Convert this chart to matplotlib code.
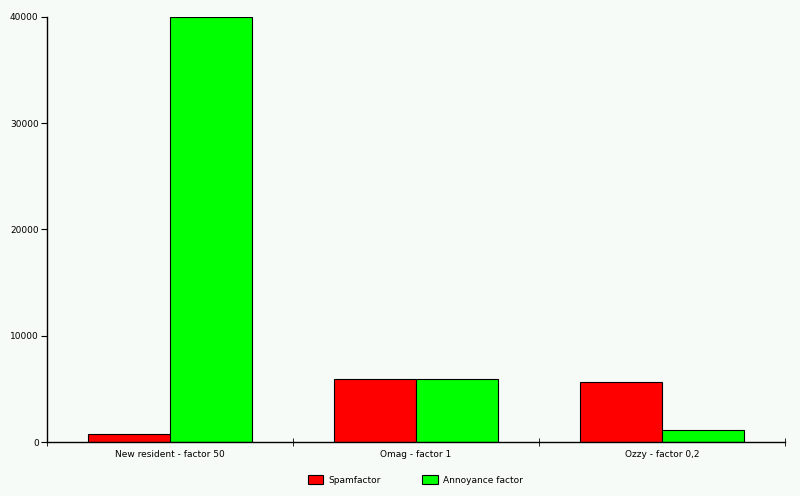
import numpy as np
import matplotlib
matplotlib.use("Agg")
import matplotlib.pyplot as plt

categories = ["New resident - factor 50", "Omag - factor 1", "Ozzy - factor 0,2"]
spamfactor = [800, 5930, 5650]
annoyance = [40000, 5930, 1130]
y_ticks = [0, 10000, 20000, 30000, 40000]

bg = "#F7FBF7"
fs = 6.5
fig = plt.figure(figsize=(8, 4.96), dpi=100, facecolor=bg)
ax = fig.add_axes([47 / 800, 54 / 496, 738 / 800, 425 / 496], facecolor=bg)

x = np.arange(len(categories))
w = 1 / 3
ax.bar(x - w / 2, spamfactor, w, color="#FF0000", edgecolor="#000000", linewidth=0.8, label="Spamfactor")
ax.bar(x + w / 2, annoyance, w, color="#00FF00", edgecolor="#000000", linewidth=0.8, label="Annoyance factor")

ax.set_xlim(-0.5, len(categories) - 0.5)
ax.set_ylim(0, 40000)
ax.set_yticks(y_ticks)
ax.set_yticklabels([str(v) for v in y_ticks], fontsize=fs)
ax.set_xticks(x)
ax.set_xticklabels(categories, fontsize=fs)
ax.tick_params(axis="x", which="major", length=0, pad=6)
ax.set_xticks(np.arange(-0.5, len(categories)), minor=True)
ax.tick_params(axis="x", which="minor", length=6, direction="inout")
ax.tick_params(axis="y", length=4, direction="out", pad=2)
for s in ["top", "right"]:
    ax.spines[s].set_visible(False)
for s in ["left", "bottom"]:
    ax.spines[s].set_linewidth(1)

fig.legend(loc="center", bbox_to_anchor=(0.519, 1 - 480 / 496), ncol=2, frameon=False,
           fontsize=fs, handlelength=1.7, handleheight=1.2, columnspacing=4.6, handletextpad=0.6)

fig.savefig("out.png", dpi=100, facecolor=bg)
